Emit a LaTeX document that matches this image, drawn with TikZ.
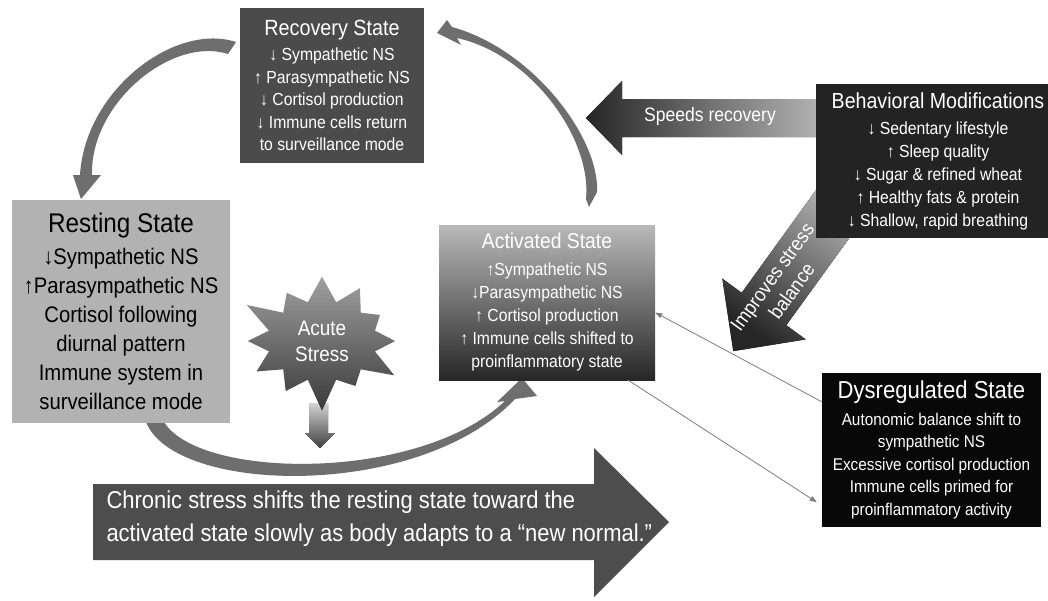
\documentclass[tikz,border=0pt]{standalone}
\usepackage{fontspec}
\setmainfont{Liberation Sans}[FakeStretch=0.9]
\usetikzlibrary{arrows.meta,shapes.symbols,positioning}

\definecolor{recoverygray}{RGB}{75,75,75}
\definecolor{restgray}{RGB}{178,178,178}
\definecolor{behavgray}{RGB}{35,35,35}
\definecolor{dysblack}{RGB}{8,8,8}
\definecolor{ribbongray}{RGB}{110,110,110}
\definecolor{linkgray}{RGB}{125,125,125}
\definecolor{chronicgray}{RGB}{77,77,77}

\newcommand{\setfs}[2]{\fontsize{#1}{#2}\selectfont}

\tikzset{
  statebox/.style={inner sep=0pt, align=center, text=white},
  ribbon/.style={fill=ribbongray, draw=none},
  thinlink/.style={draw=linkgray, line width=0.8pt, -{Triangle[length=7pt,width=5pt]}},
}

\begin{document}
\begin{tikzpicture}[x=1pt,y=-1pt]
\useasboundingbox[fill=white] (0,0) rectangle (1048,600);

% curved arrows of the cycle
\fill[ribbon] (236,42) .. controls (175,22) and (85,90) .. (80,175) -- (73,175) -- (81,199) -- (101,175) -- (92,175) .. controls (90,103) and (172,36) .. (228,54) -- cycle;
\fill[ribbon] (589,207) -- (597,192) .. controls (600,140) and (535,50) .. (452,27) -- (447,20) -- (437,33) -- (461,45) -- (457,38) .. controls (533,55) and (592,140) .. (586,199) -- cycle;
\fill[ribbon] (146,422) .. controls (175,495) and (420,500) .. (515,399) -- (537,396) -- (522,378) -- (497,402) -- (505,401) .. controls (420,482) and (200,480) .. (164,422) -- cycle;

% block arrows
\fill[left color=black!85, right color=gray!55] (586,118) -- (622,81) -- (622,99) -- (830,99) -- (830,137) -- (622,137) -- (622,155) -- cycle;
\fill[top color=gray!45, bottom color=black!85, shading angle=-36] (835.7,162.8) -- (741.7,292.8) -- (722.3,278.6) -- (733.3,351.1) -- (805.7,339.4) -- (786.3,325.2) -- (880.3,195.2) -- cycle;
\fill[chronicgray] (93,484) -- (594,484) -- (594,448) -- (669,522) -- (594,597) -- (594,560) -- (93,560) -- cycle;
\fill[top color=gray!35, bottom color=black!75] (309,403) -- (328,403) -- (328,433) -- (335,433) -- (320,448) -- (305,433) -- (309,433) -- cycle;

\node[font=\setfs{19.5}{23}, text=white] (speeds) at (710,116) {Speeds recovery};
\node[font=\setfs{20}{24}, text=white, align=center, rotate=54] (improves) at (782,284) {Improves stress\\balance};

% state boxes
\node[statebox, fill=recoverygray, minimum width=184pt, minimum height=155pt, font=\setfs{17.5}{22.5}] (recovery) at (332,85.5)
  {{\setfs{22}{26}Recovery State}\\[3pt]
   ↓ Sympathetic NS\\ ↑ Parasympathetic NS\\ ↓ Cortisol production\\ ↓ Immune cells return\\ to surveillance mode};
\node[statebox, fill=restgray, text=black, minimum width=218pt, minimum height=223pt, font=\setfs{22.5}{29}] (rest) at (121,311.5)
  {{\setfs{27}{31}Resting State}\\[3pt]
   ↓Sympathetic NS\\ ↑Parasympathetic NS\\ Cortisol following\\ diurnal pattern\\ Immune system in\\ surveillance mode};
\node[statebox, top color=gray!55, bottom color=gray!30!black, minimum width=216pt, minimum height=155pt, font=\setfs{17.5}{23}] (act) at (547,302.5)
  {{\setfs{21.5}{25}Activated State}\\[4pt]
   ↑Sympathetic NS\\ ↓Parasympathetic NS\\ ↑ Cortisol production\\ ↑ Immune cells shifted to\\ proinflammatory state};
\node[statebox, fill=behavgray, minimum width=244pt, minimum height=154pt, font=\setfs{17.5}{23}] (behav) at (938,161)
  {{\setfs{21.8}{26}Behavioral Modifications}\\[3pt]
   ↓ Sedentary lifestyle\\ ↑ Sleep quality\\ ↓ Sugar \& refined wheat\\ ↑ Healthy fats \& protein\\ ↓ Shallow, rapid breathing};
\node[statebox, fill=dysblack, minimum width=219pt, minimum height=154pt, font=\setfs{17}{22.5}] (dys) at (931.5,450)
  {{\setfs{24.5}{28}Dysregulated State}\\[4pt]
   Autonomic balance shift to\\ sympathetic NS\\ Excessive cortisol production\\ Immune cells primed for\\ proinflammatory activity};

\node[starburst, starburst points=12, starburst point height=34pt, inner xsep=12pt, inner ysep=8pt,
  top color=gray!75, bottom color=gray!45!black, align=center, text=white, font=\setfs{21}{26}] (acute) at (322,341) {Acute\\Stress};

\node[anchor=west, align=left, text=white, font=\setfs{24.4}{33}] (chronic) at (103,518.5)
  {Chronic stress shifts the resting state toward the\\activated state slowly as body adapts to a “new normal.”};

% links between activated and dysregulated
\draw[thinlink] ([yshift=-29pt]dys.north west) -- ([yshift=-10pt]act.east);
\draw[thinlink] ([xshift=-27pt]act.south east) -- ([xshift=-5pt,yshift=25pt]dys.south west);
\end{tikzpicture}
\end{document}
